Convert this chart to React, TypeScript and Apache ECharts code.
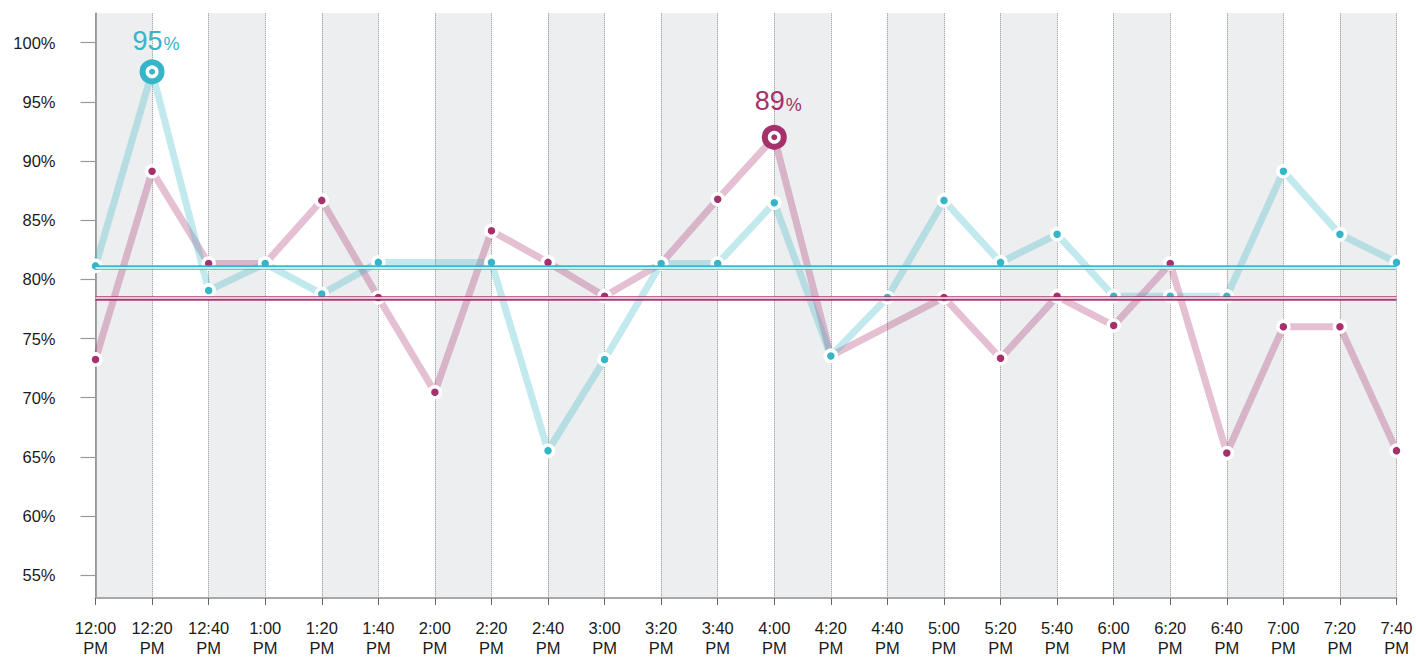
import React, { useEffect, useRef } from "react";
import * as echarts from "echarts";

const categories = [
  "12:00 PM", "12:20 PM", "12:40 PM", "1:00 PM", "1:20 PM", "1:40 PM",
  "2:00 PM", "2:20 PM", "2:40 PM", "3:00 PM", "3:20 PM", "3:40 PM",
  "4:00 PM", "4:20 PM", "4:40 PM", "5:00 PM", "5:20 PM", "5:40 PM",
  "6:00 PM", "6:20 PM", "6:40 PM", "7:00 PM", "7:20 PM", "7:40 PM",
];

const tealValues = [
  80.9, 97.5, 78.8, 81.1, 78.5, 81.2, null, 81.2, 65.1, 72.9, 81.1, 81.1,
  86.3, 73.2, 78.2, 86.5, 81.2, 83.6, 78.3, 78.3, 78.3, 89.0, 83.6, 81.2,
];

const magentaValues = [
  72.9, 89.0, 81.1, 81.1, 86.5, 78.2, 70.1, 83.9, 81.2, 78.3, 81.1, 86.6,
  91.9, 73.2, null, 78.2, 73.0, 78.3, 75.8, 81.1, 64.9, 75.7, 75.7, 65.1,
];

const tealAverage = 80.77;
const magentaAverage = 78.14;

const tealPeakLabel = "95";
const magentaPeakLabel = "89";

const yTickValues = [55, 60, 65, 70, 75, 80, 85, 90, 95, 100];
const yTickLabels = ["55%", "60%", "65%", "70%", "75%", "80%", "85%", "90%", "95%", "100%"];

const TEAL = "#35b5c5";
const MAGENTA = "#a5306b";
const AXIS_FONT = "'Liberation Sans', Arial, sans-serif";
const PEAK_FONT = "'Liberation Sans', Arial, sans-serif";

function argMax(arr: (number | null)[]) {
  let bi = 0;
  let bv = -Infinity;
  arr.forEach((v, i) => {
    if (v != null && v > bv) {
      bv = v;
      bi = i;
    }
  });
  return bi;
}

function lineSeries(name: string, values: (number | null)[], color: string, lineRgba: string, avg: number) {
  return {
    name,
    type: "line",
    data: values,
    connectNulls: true,
    symbol: "circle",
    symbolSize: 11,
    itemStyle: { color, borderColor: "#ffffff", borderWidth: 3.5, opacity: 1 },
    lineStyle: { color: lineRgba, width: 7, join: "round" },
    z: 3,
    markLine: {
      silent: true,
      symbol: "none",
      label: { show: false },
      z: 4,
      data: [
        { yAxis: avg, lineStyle: { color, width: 4.6, type: "solid", opacity: 0.95 } },
        { yAxis: avg, lineStyle: { color: "rgba(255,255,255,0.7)", width: 1.8, type: "solid" } },
      ],
    },
  };
}

function peakSeries(values: (number | null)[], color: string, text: string, offsetY: number) {
  const i = argMax(values);
  const v = values[i] as number;
  return {
    type: "scatter",
    z: 6,
    itemStyle: { opacity: 1 },
    data: [
      {
        value: [i, v],
        symbol: "circle",
        symbolSize: 19,
        itemStyle: { color: "#ffffff", borderColor: color, borderWidth: 6, opacity: 1 },
        label: {
          show: true,
          position: "top",
          distance: offsetY,
          offset: [4, 0],
          opacity: 1,
          formatter: `{big|${text}}{small|%}`,
          rich: {
            big: { fontSize: 27, color, fontFamily: PEAK_FONT, verticalAlign: "bottom" },
            small: { fontSize: 18, color, fontFamily: PEAK_FONT, verticalAlign: "bottom", padding: [0, 0, 1, 1] },
          },
        },
      },
      {
        value: [i, v],
        symbol: "circle",
        symbolSize: 6,
        itemStyle: { color, opacity: 1 },
      },
    ],
  };
}

export default function App() {
  const ref = useRef<HTMLDivElement>(null);
  useEffect(() => {
    if (!ref.current) return;
    const chart = echarts.init(ref.current, undefined, { renderer: "svg" });
    const option = {
      animation: false,
      grid: [
        { left: 95.5, right: 19.5, top: 13.3, bottom: 53 },
        { left: 95.5, right: 19.5, top: 42.6, bottom: 82.7 },
      ],
      xAxis: [
        {
          type: "category",
          gridIndex: 0,
          data: categories,
          boundaryGap: false,
          axisLine: { show: true, lineStyle: { color: "#a8a8a8", width: 2 } },
          axisTick: { show: true, length: 7, lineStyle: { color: "#666666", width: 1 } },
          axisLabel: {
            interval: 0,
            formatter: (v: string) => v.replace(" ", "\n"),
            fontFamily: AXIS_FONT,
            fontSize: 16.5,
            color: "#1a1a1a",
            lineHeight: 20,
            margin: 20,
          },
          splitLine: { show: true, lineStyle: { color: "#8c8c8c", type: "dotted", width: 1 } },
          splitArea: { show: true, areaStyle: { color: ["#edeef0", "#ffffff"] } },
        },
        { type: "category", gridIndex: 1, data: [""], show: false },
      ],
      yAxis: [
        {
          type: "value",
          gridIndex: 0,
          min: 52.5,
          max: 102.5,
          interval: 2.5,
          axisLine: { show: true, lineStyle: { color: "#8a8a8a", width: 1.5 } },
          axisTick: { show: false },
          axisLabel: { show: false },
          splitLine: { show: false },
        },
        {
          type: "value",
          gridIndex: 1,
          min: yTickValues[0],
          max: yTickValues[yTickValues.length - 1],
          interval: yTickValues[1] - yTickValues[0],
          axisLine: { show: false },
          axisTick: { show: true, length: 15, lineStyle: { color: "#999999", width: 1.2 } },
          axisLabel: {
            formatter: (v: number) => {
              const k = yTickValues.indexOf(v);
              return k >= 0 ? yTickLabels[k] : "";
            },
            margin: 40,
            fontFamily: AXIS_FONT,
            fontSize: 16.5,
            color: "#1a1a1a",
            padding: [6, 0, 0, 0],
          },
          splitLine: { show: false },
        },
      ],
      series: [
        lineSeries("magenta", magentaValues, MAGENTA, "rgba(165,48,107,0.3)", magentaAverage),
        lineSeries("teal", tealValues, TEAL, "rgba(53,181,197,0.3)", tealAverage),
        peakSeries(magentaValues, MAGENTA, magentaPeakLabel, 10),
        peakSeries(tealValues, TEAL, tealPeakLabel, 5),
      ],
    };
    chart.setOption(option as any);
    return () => chart.dispose();
  }, []);
  return (
    <div
      ref={ref}
      style={{ position: "fixed", left: 0, top: 0, width: 1416, height: 658, background: "#ffffff" }}
    />
  );
}
